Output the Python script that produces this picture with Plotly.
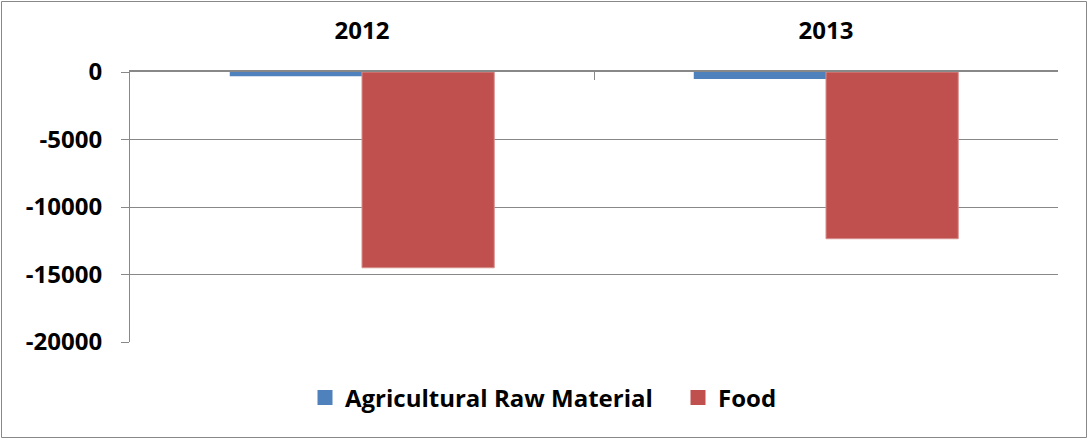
import plotly.graph_objects as go

years = ["2012", "2013"]
agri_raw = [-320, -520]
food = [-14500, -12350]
y_ticks = [0, -5000, -10000, -15000, -20000]
series_names = ["Agricultural Raw Material", "Food"]
colors = ["#4F81BD", "#C0504D"]

FONT = "Open Sans"
FS = 24
L, R, T, B = 130, 30, 72, 98
W, H = 1088, 440
pw, ph = W - L - R, H - T - B

fig = go.Figure()
fig.add_trace(go.Bar(x=years, y=agri_raw, name=series_names[0], showlegend=False,
                     marker=dict(color=colors[0], line=dict(width=0))))
fig.add_trace(go.Bar(x=years, y=food, name=series_names[1], showlegend=False,
                     marker=dict(color=colors[1], line=dict(color="#D58F8D", width=1))))
# legend entries with square symbols
for i, (nm, c) in enumerate(zip(series_names, colors)):
    fig.add_trace(go.Scatter(x=[None], y=[None], mode="markers", name=nm,
                             marker=dict(symbol="square", size=15, color=c),
                             legend="legend" if i == 0 else "legend2",
                             showlegend=True))

leg_y = -(398 - (T + ph)) / ph
leg_font = dict(family=FONT, size=FS, color="black", weight="bold")
fig.update_layout(
    width=W, height=H,
    margin=dict(l=L, r=R, t=T, b=B, pad=0),
    paper_bgcolor="white", plot_bgcolor="white",
    barmode="group", bargap=0.43, bargroupgap=0,
    font=dict(family=FONT, size=FS, color="black"),
    legend=dict(orientation="h", x=(305 - L) / pw, xanchor="left",
                y=leg_y, yanchor="middle", font=leg_font, itemwidth=30),
    legend2=dict(orientation="h", x=(678 - L) / pw, xanchor="left",
                 y=leg_y, yanchor="middle", font=leg_font, itemwidth=30),
    xaxis=dict(side="top", showline=True, linecolor="#888888", linewidth=2,
               ticks="inside", tickson="boundaries", ticklen=8, tickcolor="#888888",
               tickfont=dict(family=FONT, size=FS, color="black", weight="bold"),
               ticklabelstandoff=21, showgrid=False, zeroline=False, fixedrange=True),
    yaxis=dict(range=[-20000, 0], tickvals=y_ticks, ticktext=[str(v) for v in y_ticks],
               showline=True, linecolor="#888888", linewidth=1,
               ticks="outside", ticklen=8, tickcolor="#888888",
               showgrid=True, gridcolor="#888888", gridwidth=1, zeroline=False,
               tickfont=dict(family=FONT, size=FS, color="black", weight="bold"),
               ticklabelstandoff=14, fixedrange=True),
    shapes=[dict(type="rect", xref="paper", yref="paper",
                 x0=(1.5 - L) / pw, x1=(W - 1.5 - L) / pw,
                 y0=(T + ph - (H - 2.5)) / ph, y1=(T + ph - 1.5) / ph,
                 line=dict(color="#888888", width=1), fillcolor="rgba(0,0,0,0)",
                 layer="below")],
)

fig.write_html("out.html")
